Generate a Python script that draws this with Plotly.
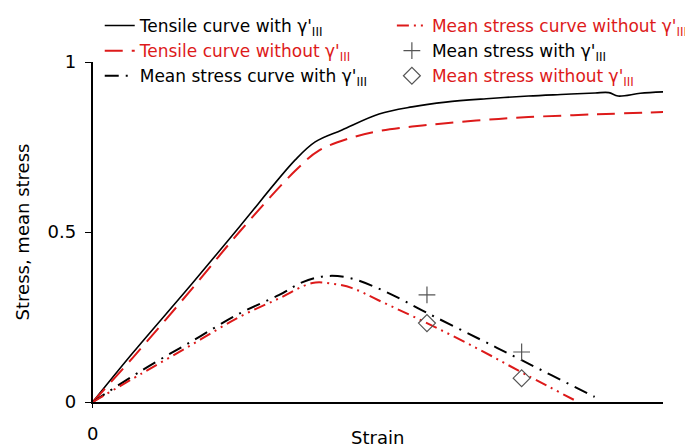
import plotly.graph_objects as go

RED = "#dd1a1a"
GRAY = "#555555"

# Tensile curve with gamma'_III
ten_with_x = [0, 0.07, 0.175, 0.257, 0.355, 0.39, 0.437, 0.502, 0.56, 0.619, 0.69, 0.764, 0.83, 0.881, 0.905, 0.921, 0.96, 1.0]
ten_with_y = [0, 0.144, 0.35, 0.515, 0.712, 0.765, 0.80, 0.847, 0.868, 0.882, 0.892, 0.90, 0.905, 0.909, 0.91, 0.90, 0.908, 0.912]

# Tensile curve without gamma'_III
ten_wo_x = [0, 0.07, 0.175, 0.257, 0.355, 0.397, 0.455, 0.502, 0.56, 0.619, 0.69, 0.764, 0.881, 1.0]
ten_wo_y = [0, 0.13, 0.335, 0.50, 0.68, 0.74, 0.778, 0.797, 0.81, 0.82, 0.83, 0.838, 0.846, 0.853]

# Mean stress curve with gamma'_III
mean_with_x = [0, 0.087, 0.175, 0.257, 0.327, 0.367, 0.407, 0.45, 0.514, 0.586, 0.677, 0.752, 0.874, 0.88]
mean_with_y = [0, 0.094, 0.18, 0.26, 0.315, 0.352, 0.37, 0.365, 0.324, 0.262, 0.186, 0.123, 0.02, 0.015]

# Mean stress curve without gamma'_III
mean_wo_x = [0, 0.087, 0.175, 0.257, 0.327, 0.385, 0.42, 0.455, 0.50, 0.586, 0.677, 0.76, 0.851]
mean_wo_y = [0, 0.085, 0.17, 0.25, 0.305, 0.35, 0.348, 0.335, 0.30, 0.232, 0.155, 0.08, 0.0]

# Mean stress points
pts_with_x = [0.586, 0.752]
pts_with_y = [0.315, 0.147]
pts_wo_x = [0.586, 0.752]
pts_wo_y = [0.232, 0.07]

G = "γ'<sub>III</sub>"

fig = go.Figure()
fig.add_trace(go.Scatter(x=ten_with_x, y=ten_with_y, mode="lines",
                         line=dict(color="black", width=1.6, shape="spline"),
                         name="Tensile curve with " + G, legend="legend", legendgroup="a"))
fig.add_trace(go.Scatter(x=ten_wo_x, y=ten_wo_y, mode="lines",
                         line=dict(color=RED, width=2, dash="18px,9px", shape="spline"),
                         name="<span style='color:%s'>Tensile curve without %s</span>" % (RED, G),
                         legend="legend", legendgroup="b"))
fig.add_trace(go.Scatter(x=mean_with_x, y=mean_with_y, mode="lines",
                         line=dict(color="black", width=2, dash="14px,7px,2px,7px", shape="spline"),
                         name="Mean stress curve with " + G, legend="legend", legendgroup="c"))
fig.add_trace(go.Scatter(x=mean_wo_x, y=mean_wo_y, mode="lines",
                         line=dict(color=RED, width=2, dash="12px,5px,2px,5px,2px,5px", shape="spline"),
                         name="<span style='color:%s'>Mean stress curve without %s</span>" % (RED, G),
                         legend="legend2", legendgroup="d"))
fig.add_trace(go.Scatter(x=pts_with_x, y=pts_with_y, mode="markers",
                         marker=dict(symbol="cross-thin-open", size=12, line=dict(color=GRAY, width=1.2), color=GRAY),
                         name="Mean stress with " + G, legend="legend2", legendgroup="e"))
fig.add_trace(go.Scatter(x=pts_wo_x, y=pts_wo_y, mode="markers",
                         marker=dict(symbol="diamond-open", size=13, line=dict(color=GRAY, width=1.2), color=GRAY),
                         name="<span style='color:%s'>Mean stress without %s</span>" % (RED, G),
                         legend="legend2", legendgroup="f"))

lfont = dict(family="DejaVu Sans", size=17, color="black")
afont = dict(family="DejaVu Sans", size=18, color="black")

# page body has an 8px margin, so the figure is shifted by 8px
W, H = 685, 439
PL, PR, PT, PB = 85, 657, 54, 394   # plot area in figure pixels

fig.update_layout(
    width=W, height=H,
    margin=dict(l=0, r=0, t=0, b=0),
    paper_bgcolor="white", plot_bgcolor="white",
    font=afont,
    hovermode=False,
    legend=dict(x=92 / W, y=1.0, xref="paper", yref="paper",
                xanchor="left", yanchor="top", bgcolor="rgba(0,0,0,0)",
                font=lfont, tracegroupgap=0, itemwidth=30),
    legend2=dict(x=385 / W, y=1.0, xref="paper", yref="paper",
                 xanchor="left", yanchor="top", bgcolor="rgba(0,0,0,0)",
                 font=lfont, tracegroupgap=0, itemwidth=30),
    xaxis=dict(domain=[PL / W, PR / W], range=[0, 1], showgrid=False, zeroline=False, showline=True,
               linecolor="black", linewidth=2, ticks="outside", ticklen=4,
               tickcolor="black", tickvals=[0], ticktext=["0"],
               ticklabelstandoff=10, automargin=False, tickfont=afont),
    yaxis=dict(domain=[(H - PB) / H, (H - PT) / H], range=[0, 1], showgrid=False, zeroline=False,
               showline=True, linecolor="black", linewidth=2, ticks="outside", ticklen=6,
               tickcolor="black", tickvals=[0, 0.5, 1], ticktext=["0", "0.5", "1"],
               ticklabelstandoff=5, automargin=False, tickfont=afont,
               title=dict(text="Stress, mean stress", standoff=13, font=afont)),
    annotations=[dict(text="Strain", x=(PL + PR) / 2 / W, y=(H - PB) / H, xref="paper", yref="paper",
                      xanchor="center", yanchor="middle", yshift=-35,
                      showarrow=False, font=afont)],
)

fig.write_html("out.html")
